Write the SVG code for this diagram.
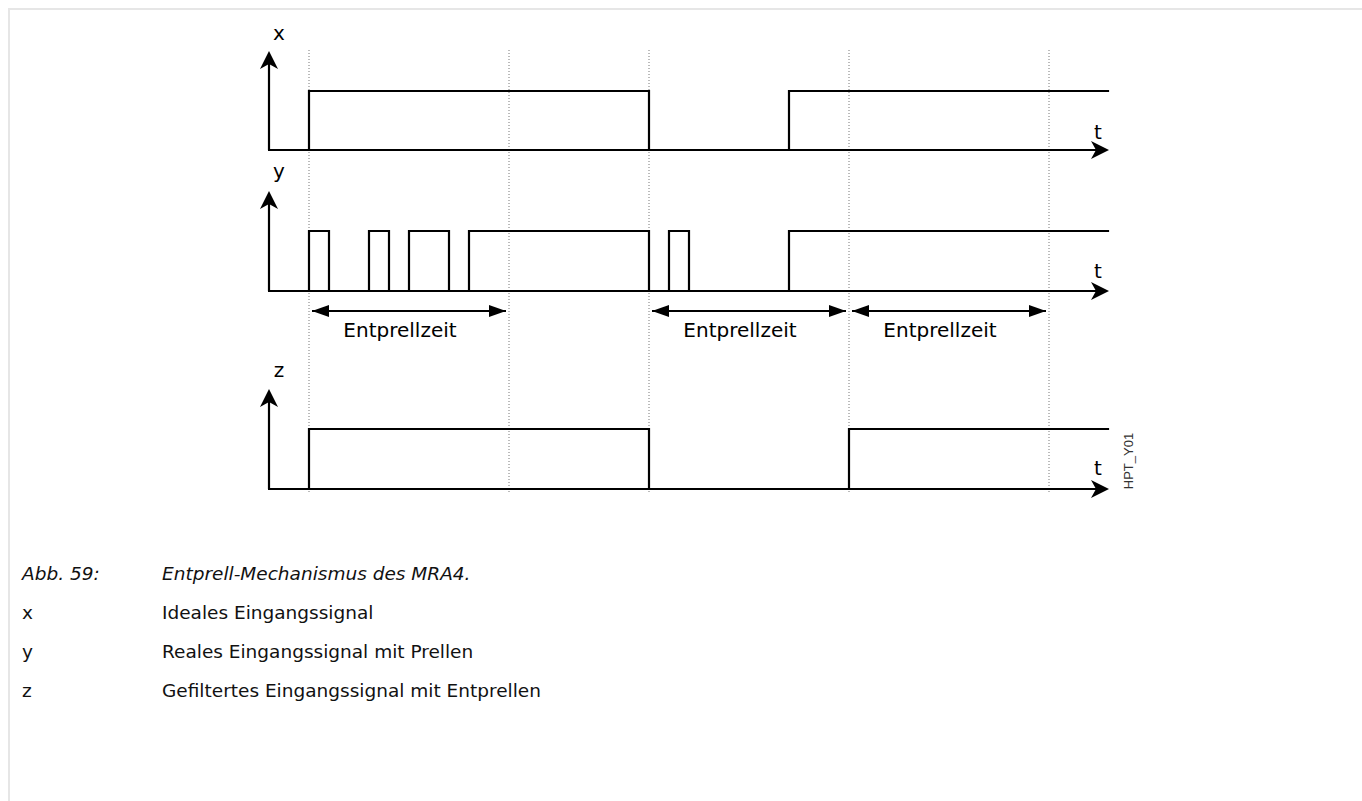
<svg xmlns="http://www.w3.org/2000/svg" width="1362" height="801" viewBox="0 0 1362 801">
<style>
.sig{fill:none;stroke:#000;stroke-width:2.2;stroke-linejoin:miter;stroke-linecap:square}
.axis{fill:none;stroke:#000;stroke-width:2.2}
.dim{fill:none;stroke:#000;stroke-width:2}
.grid{fill:none;stroke:#777;stroke-width:1;stroke-dasharray:1 2}
.lbl{font-family:"DejaVu Sans",Verdana,sans-serif;font-size:20px;fill:#000}
.cap{font-family:"DejaVu Sans",Verdana,sans-serif;font-size:18.5px;fill:#111}
.it{font-style:italic}
</style>
<defs>
<marker id="ax" markerUnits="userSpaceOnUse" viewBox="0 0 18 18" refX="10" refY="9" markerWidth="18" markerHeight="18" orient="auto">
<path d="M0,0 L18,9 L0,18 L5,9 Z" fill="#000"/>
</marker>
<marker id="dh" markerUnits="userSpaceOnUse" viewBox="0 0 17 12" refX="17" refY="6" markerWidth="17" markerHeight="12" orient="auto-start-reverse">
<path d="M0,0 L17,6 L0,12 Z" fill="#000"/>
</marker>
</defs>
<path d="M9,801 V9 H1362" fill="none" stroke="#e6e6e6" stroke-width="2"/>
<g id="grid">
<line class="grid" x1="309" y1="50" x2="309" y2="492"/>
<line class="grid" x1="509" y1="50" x2="509" y2="492"/>
<line class="grid" x1="649" y1="50" x2="649" y2="492"/>
<line class="grid" x1="849" y1="50" x2="849" y2="492"/>
<line class="grid" x1="1049" y1="50" x2="1049" y2="492"/>
</g>
<g id="plot-x">
<path class="axis" d="M269,150 V59" marker-end="url(#ax)"/>
<path class="axis" d="M268,150 H1101" marker-end="url(#ax)"/>
<path class="sig" d="M309,150 V91 H649 V150 M789,150 V91 H1108"/>
<text class="lbl" x="279" y="40" text-anchor="middle">x</text>
<text class="lbl" x="1098" y="139" text-anchor="middle">t</text>
</g>
<g id="plot-y">
<path class="axis" d="M269,291 V199" marker-end="url(#ax)"/>
<path class="axis" d="M268,291 H1101" marker-end="url(#ax)"/>
<path class="sig" d="M309,291 V231 H329 V291 M369,291 V231 H389 V291 M409,291 V231 H449 V291 M469,291 V231 H649 V291 M669,291 V231 H689 V291 M789,291 V231 H1108"/>
<text class="lbl" x="279" y="178" text-anchor="middle">y</text>
<text class="lbl" x="1098" y="278" text-anchor="middle">t</text>
</g>
<g id="plot-z">
<path class="axis" d="M269,489 V397" marker-end="url(#ax)"/>
<path class="axis" d="M268,489 H1101" marker-end="url(#ax)"/>
<path class="sig" d="M309,489 V429 H649 V489 M849,489 V429 H1108"/>
<text class="lbl" x="279" y="377" text-anchor="middle">z</text>
<text class="lbl" x="1098" y="475" text-anchor="middle">t</text>
</g>
<g id="connectors">
<path class="dim" d="M312,311 H506" marker-start="url(#dh)" marker-end="url(#dh)"/>
<path class="dim" d="M652,311 H846" marker-start="url(#dh)" marker-end="url(#dh)"/>
<path class="dim" d="M852,311 H1046" marker-start="url(#dh)" marker-end="url(#dh)"/>
</g>
<g id="labels">
<text class="lbl" x="400" y="337" text-anchor="middle">Entprellzeit</text>
<text class="lbl" x="740" y="337" text-anchor="middle">Entprellzeit</text>
<text class="lbl" x="940" y="337" text-anchor="middle">Entprellzeit</text>
<text x="1128" y="461" transform="rotate(-90 1128 461)" text-anchor="middle" dominant-baseline="central" font-family="Liberation Sans, Arial, sans-serif" font-size="13" fill="#333">HPT_Y01</text>
</g>
<g id="caption">
<text class="cap it" x="22" y="580">Abb. 59:</text>
<text class="cap it" x="162" y="580">Entprell-Mechanismus des MRA4.</text>
<text class="cap" x="22" y="619">x</text>
<text class="cap" x="162" y="619">Ideales Eingangssignal</text>
<text class="cap" x="22" y="658">y</text>
<text class="cap" x="162" y="658">Reales Eingangssignal mit Prellen</text>
<text class="cap" x="22" y="697">z</text>
<text class="cap" x="162" y="697">Gefiltertes Eingangssignal mit Entprellen</text>
</g>
</svg>
